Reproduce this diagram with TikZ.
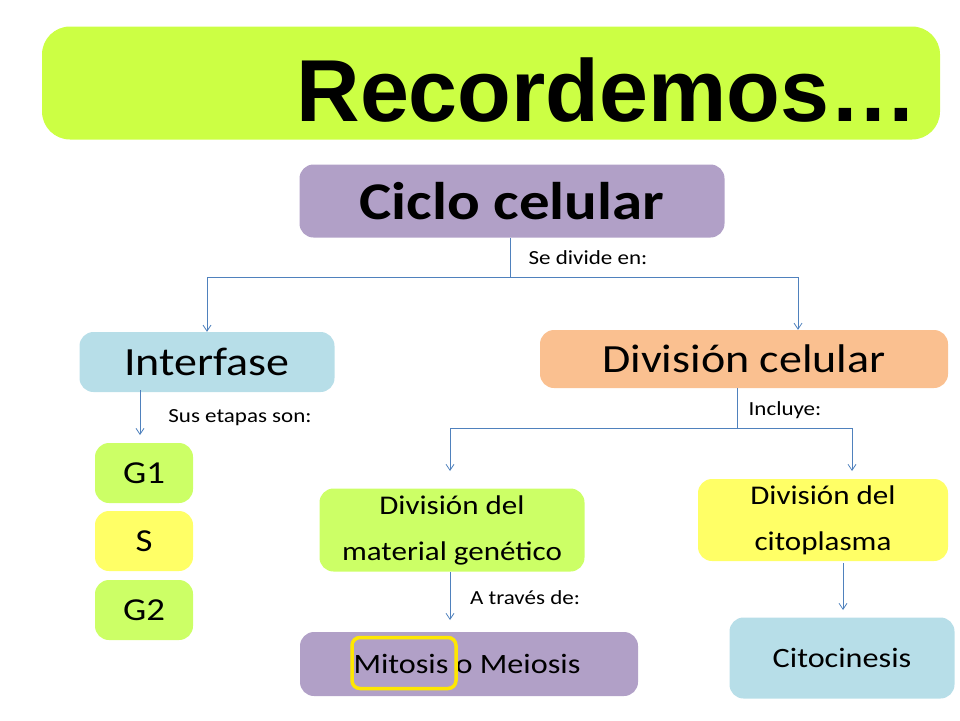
\documentclass[tikz,border=0pt]{standalone}
\usepackage{fontspec}
\setmainfont[FakeStretch=1.15]{Carlito}
\newfontfamily\arialf{Liberation Sans}
\usetikzlibrary{arrows.meta}
\definecolor{lime}{HTML}{CCFF44}
\definecolor{limeb}{HTML}{CCFF66}
\definecolor{purp}{HTML}{B1A0C7}
\definecolor{lblue}{HTML}{B7DEE8}
\definecolor{peach}{HTML}{FAC090}
\definecolor{yel}{HTML}{FFFF66}
\definecolor{lnc}{HTML}{4F81BD}
\tikzset{
 box/.style={rounded corners=14pt, inner sep=0pt, align=center},
 conn/.style={draw=lnc, line width=0.8pt},
 arr/.style={conn, -{Straight Barb[length=6pt,width=8pt]}},
 lbl/.style={font=\fontsize{20}{24}\selectfont, anchor=center},
}
\begin{document}
\begin{tikzpicture}[x=1pt,y=-1pt]
\useasboundingbox (0,0) rectangle (960,720);
\node[box, fill=lime, rounded corners=28pt, minimum width=898pt, minimum height=113pt] (title) at (491,83) {};
\node[font=\arialf\bfseries\fontsize{88}{90}\selectfont] (tt) at (607,90) {Recordemos…};
\node[box, fill=purp, minimum width=425pt, minimum height=73pt, font=\bfseries\fontsize{53}{56}\selectfont] (ciclo) at (512,201) {Ciclo celular};
\node[box, fill=lblue, minimum width=255pt, minimum height=60pt, font=\fontsize{40}{44}\selectfont] (inter) at (207,362) {Interfase};
\node[box, fill=peach, minimum width=408pt, minimum height=58pt, font=\fontsize{40}{44}\selectfont] (divc) at (744,359) {División celular};
\node[box, fill=limeb, minimum width=98pt, minimum height=60pt, font=\fontsize{32}{36}\selectfont] (g1) at (144,473) {G1};
\node[box, fill=yel, minimum width=98pt, minimum height=60pt, font=\fontsize{32}{36}\selectfont] (s) at (144,541) {S};
\node[box, fill=limeb, minimum width=98pt, minimum height=60pt, font=\fontsize{32}{36}\selectfont] (g2) at (144,610) {G2};
\node[box, fill=limeb, minimum width=265pt, minimum height=83pt, font=\fontsize{27}{46}\selectfont] (dmg) at (452,530) {División del\\material genético};
\node[box, fill=yel, minimum width=250pt, minimum height=82pt, font=\fontsize{27}{46}\selectfont] (dcit) at (823,520) {División del\\citoplasma};
\node[box, fill=purp, minimum width=338pt, minimum height=64pt] (mit) at (469,664) {};
\node[font=\fontsize{28}{32}\selectfont] (mt) at (467,664) {Mitosis o Meiosis};
\node[draw=yellow!90!orange, line width=3.5pt, rounded corners=8pt, minimum width=104pt, minimum height=51pt] (hl) at (404,663) {};
\node[box, fill=lblue, minimum width=225pt, minimum height=81pt, font=\fontsize{28}{32}\selectfont] (cito) at (842,658) {Citocinesis};
% connectors
\coordinate (j1) at (510,277);
\coordinate (l1) at (207,277);
\coordinate (r1) at (798,277);
\draw[conn] (ciclo.south -| j1) -- (j1);
\draw[conn] (l1) -- (r1);
\draw[arr] (l1) -- (inter.north -| l1);
\draw[arr] (r1) -- (divc.north -| r1);
\node[lbl] (sd) at (588,258) {Se divide en:};
\coordinate (ia) at (140,390);
\draw[arr] (ia) -- (140,435);
\node[lbl] (se) at (240,418) {Sus etapas son:};
\coordinate (j2) at (737,428);
\coordinate (l2) at (450,428);
\coordinate (r2) at (852,428);
\draw[conn] (divc.south -| j2) -- (j2);
\draw[conn] (l2) -- (r2);
\draw[arr] (l2) -- (450,471);
\draw[arr] (r2) -- (852,471);
\node[lbl] (inc) at (785,410) {Incluye:};
\coordinate (a3) at (450,572);
\coordinate (a3e) at (450,620);
\draw[arr] (a3) -- (a3e);
\node[lbl] (at) at (525,598) {A través de:};
\coordinate (a4) at (843,563);
\coordinate (a4e) at (843,610);
\draw[arr] (a4) -- (a4e);
\end{tikzpicture}
\end{document}
